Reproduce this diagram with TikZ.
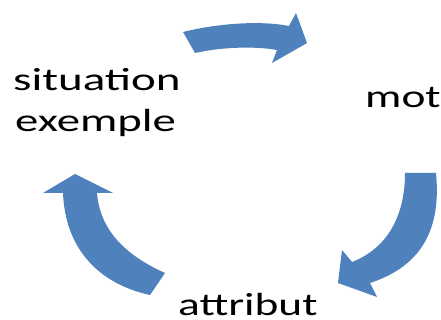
\documentclass[tikz,border=0pt]{standalone}
\usepackage{fontspec}
\setmainfont{Carlito}
\definecolor{arrowblue}{HTML}{4F81BD}
\begin{document}
\begin{tikzpicture}[x=1pt,y=-1pt,
  blockarrow/.style={fill=arrowblue, draw=none},
  lbl/.style={inner sep=0pt, anchor=base west, font=\fontsize{32}{38}\selectfont}]
\useasboundingbox (0,0) rectangle (441,320);
\fill[white] (0,0) rectangle (441,320);
% top arrow
\path[blockarrow] (183,32) .. controls (215,24) and (258,20) .. (289,26) -- (296,13) -- (307,43) -- (272,63) -- (277,50) .. controls (255,46) and (222,47) .. (195,53) -- cycle;
% right arrow
\path[blockarrow] (405,173) -- (436,173) .. controls (441,225) and (425,265) .. (370,283) -- (377,297) -- (338,283) -- (342,250) -- (352,262) .. controls (388,248) and (405,215) .. (405,173) -- cycle;
% left arrow
\path[blockarrow] (75,174) -- (113,193) -- (97,193) .. controls (100,230) and (125,255) .. (165,273) -- (150,295) .. controls (95,283) and (65,245) .. (63,193) -- (43,193) -- cycle;
% labels
\node[lbl] (sit) at (13,91) {\scalebox{1.47}[1]{situation}};
\node[lbl] (ex) at (15,132) {\scalebox{1.46}[1]{exemple}};
\node[lbl] (mot) at (365,108) {\scalebox{1.42}[1]{mot}};
\node[lbl] (attr) at (178,315) {\scalebox{1.42}[1]{attribut}};
\end{tikzpicture}
\end{document}
